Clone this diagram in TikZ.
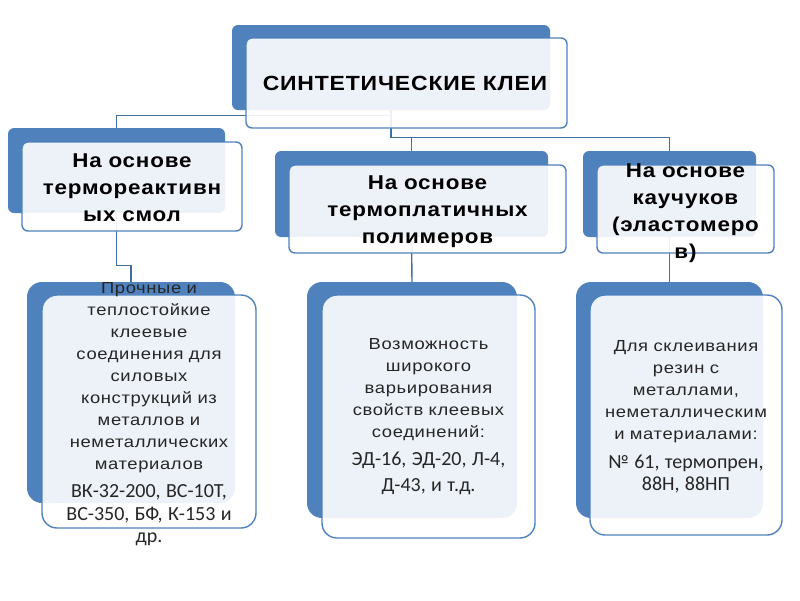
\documentclass[tikz,border=0pt]{standalone}
\usepackage{fontspec}
\setmainfont{Liberation Sans}
\newfontfamily\hdfont[FakeStretch=1.12, LetterSpace=4]{Liberation Sans}
\newfontfamily\txtfont[FakeStretch=1.15, LetterSpace=4]{Liberation Sans}
\newfontfamily\numfont{Carlito}
\newcommand\numtext{\numfont\fontsize{20}{23}\selectfont}
\definecolor{accent}{HTML}{4F81BD}
\definecolor{linkcol}{HTML}{41709F}
\definecolor{ink}{HTML}{262626}

\begin{document}
\begin{tikzpicture}[x=1pt,y=-1pt]
\tikzstyle{every node}+=[inner sep=0pt]
\tikzstyle{backbox}=[fill=accent, rounded corners=6pt]
\tikzstyle{frontbox}=[draw=accent, line width=1.4pt, fill=white, fill opacity=0.9, rounded corners=6pt]
\tikzstyle{big}=[rounded corners=15pt]
\tikzstyle{link}=[draw=linkcol, line width=1.4pt]
\tikzstyle{hdtext}=[text width=280pt, align=center, text=black, font=\hdfont\bfseries\fontsize{20}{27}\selectfont]
\tikzstyle{bodytext}=[text width=280pt, align=center, text=ink, font=\txtfont\fontsize{16}{22}\selectfont]
\useasboundingbox (0,0) rectangle (800,600);
% blue boxes behind
\node[backbox, minimum width=318pt, minimum height=85pt] (tb) at (391,67.5) {};
\node[backbox, minimum width=217pt, minimum height=85pt] (lb) at (116.5,170.5) {};
\node[backbox, minimum width=273pt, minimum height=86pt] (mb) at (411.5,194) {};
\node[backbox, minimum width=173pt, minimum height=86pt] (rb) at (669.5,194) {};
\node[backbox, big, minimum width=208pt, minimum height=221pt] (ldb) at (131,392.5) {};
\node[backbox, big, minimum width=210pt, minimum height=236pt] (mdb) at (412,400) {};
\node[backbox, big, minimum width=187pt, minimum height=236pt] (rdb) at (669.5,400) {};
% connectors
\draw[link] (tb.south) -- ++(0,5) -| (lb.north);
\draw[link] (tb.south) -- ++(0,27) -| (rb.north);
\draw[link] (tb.south) ++(0,27) -| (mb.north);
\draw[link] (lb.south) -- ++(0,52) -| (ldb.north);
\draw[link] (mb.south) -- (mdb.north);
\draw[link] (rb.south) -- (rdb.north);
% front boxes
\node[frontbox, minimum width=321pt, minimum height=90pt] (tf) at (406.5,83) {};
\node[frontbox, minimum width=220pt, minimum height=89pt] (lf) at (132,186.5) {};
\node[frontbox, minimum width=277pt, minimum height=88pt] (mf) at (427.5,209) {};
\node[frontbox, minimum width=177pt, minimum height=88pt] (rf) at (685.5,209) {};
\node[frontbox, big, minimum width=214pt, minimum height=233pt] (ldf) at (149,411.5) {};
\node[frontbox, big, minimum width=213pt, minimum height=243pt] (mdf) at (428.5,416.5) {};
\node[frontbox, big, minimum width=192pt, minimum height=240pt] (rdf) at (686,415) {};
% texts
\node[hdtext, text width=340pt, font=\hdfont\bfseries\fontsize{20.5}{27}\selectfont] (tt) at ([xshift=-1.5pt]tf.center) {СИНТЕТИЧЕСКИЕ КЛЕИ};
\node[hdtext] (lt) at ([yshift=-1.5pt]lf.center) {На основе\\ термореактивн\\ ых смол};
\node[hdtext] (mt) at ([yshift=-3pt]mf.center) {На основе\\ термоплатичных\\ полимеров};
\node[hdtext] (rt) at ([yshift=-4.5pt]rf.center) {На основе\\ каучуков\\ (эластомеро\\ в)};
\node[bodytext] (ldt) at ([yshift=-2.5pt]ldf.center) {Прочные и\\ теплостойкие\\ клеевые\\ соединения для\\ силовых\\ конструкций из\\ металлов и\\ неметаллических\\ материалов\par
  \vspace{5pt}\numtext ВК-32-200, ВС-10Т,\\ ВС-350, БФ, К-153 и\\ др.};
\node[bodytext] (mdt) at (mdf) {Возможность\\ широкого\\ варьирования\\ свойств клеевых\\ соединений:\par
  \vspace{5pt}\numtext ЭД-16, ЭД-20, Л-4,\\[4pt] Д-43, и т.д.};
\node[bodytext] (rdt) at ([yshift=-1.5pt]rdf.center) {Для склеивания\\ резин с\\ металлами,\\ неметаллическим\\ и материалами:\par
  \vspace{6pt}\numtext №~61, термопрен,\\ 88Н, 88НП};
\end{tikzpicture}
\end{document}
